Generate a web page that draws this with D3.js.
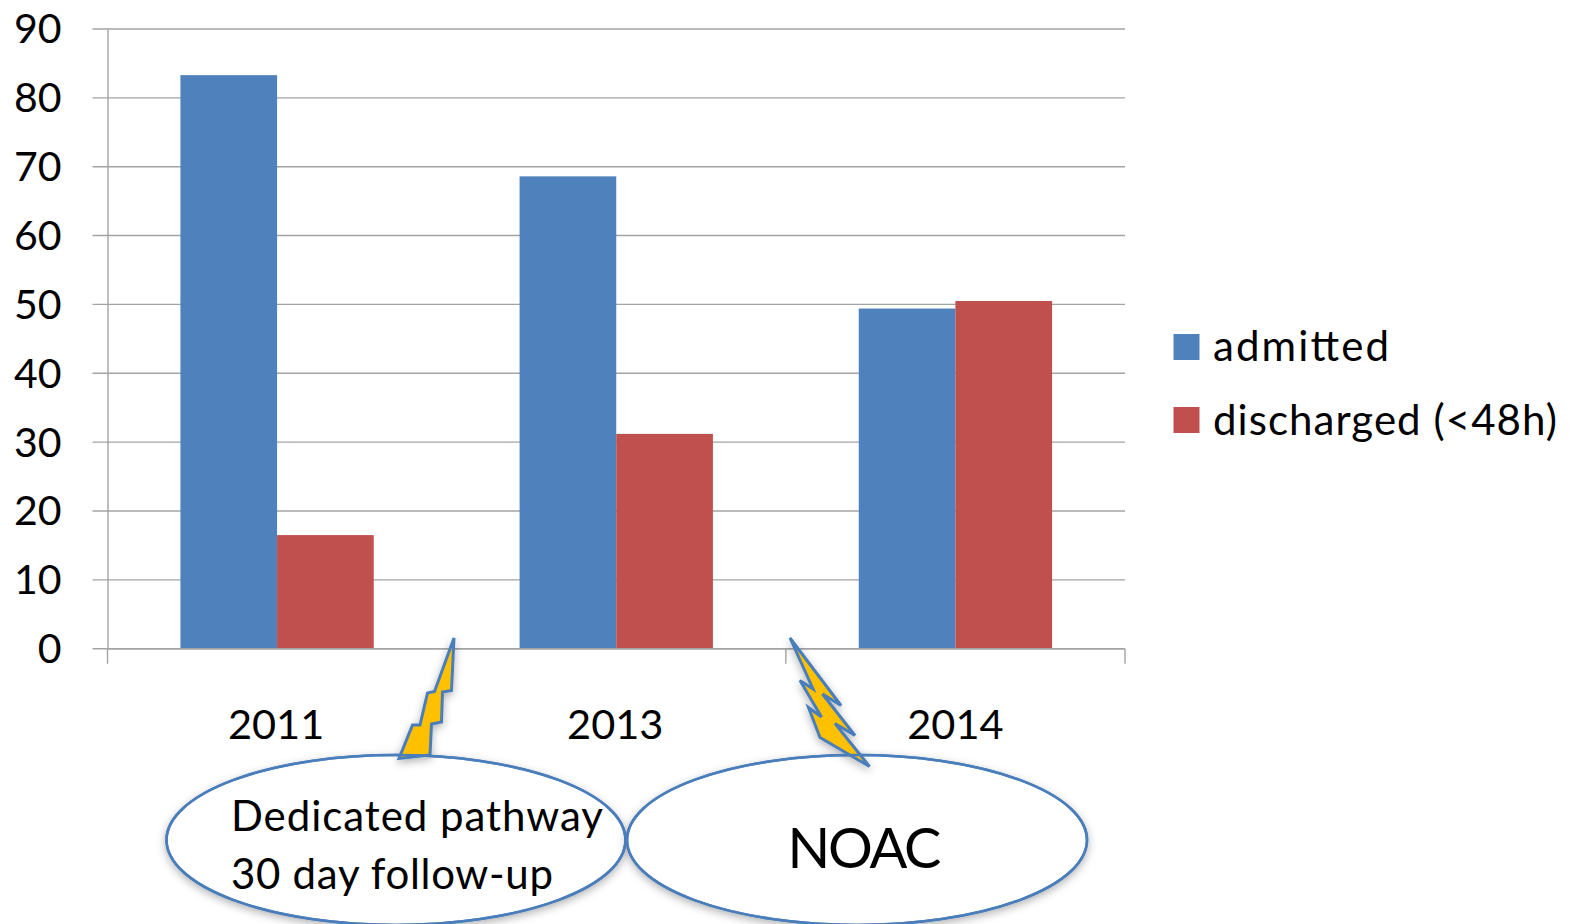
<!DOCTYPE html>
<html>
<head>
<meta charset="utf-8">
<style>
html,body{margin:0;padding:0;background:#fff}
svg{display:block}
text{font-family:Lato,"Open Sans",sans-serif;fill:#000}
</style>
<script src="https://cdn.jsdelivr.net/npm/d3@7"></script>
</head>
<body>
<script>
// Share of patients per year, by disposition
const years = ["2011", "2013", "2014"];
const seriesNames = ["admitted", "discharged (<48h)"];
const seriesWidths = [176, 344];
const admitted = [83.3, 68.6, 49.4];
const discharged = [16.5, 31.2, 50.5];
const yTicks = [0, 10, 20, 30, 40, 50, 60, 70, 80, 90];
const seriesColors = ["#4F81BD", "#C0504D"];

const W = 1579, H = 924;
const plot = {left: 107.5, right: 1125, top: 29, bottom: 648.7};
const gridColor = "#A3A3A3", calloutBlue = "#4A7EBB", boltFill = "#FFC000";

const svg = d3.select("body").append("svg").attr("width", W).attr("height", H);

// Soft shadow under the callout shapes
const defs = svg.append("defs");
const shadow = defs.append("filter").attr("id", "soft").attr("x", "-20%").attr("y", "-20%").attr("width", "140%").attr("height", "140%");
shadow.append("feDropShadow").attr("dx", 0).attr("dy", 3).attr("stdDeviation", 4).attr("flood-color", "#000").attr("flood-opacity", 0.3);

const y = d3.scaleLinear().domain([0, 90]).range([plot.bottom, plot.top]);
const x = d3.scaleBand().domain(years).range([plot.left, plot.right]).paddingInner(0.43).paddingOuter(0.215);
const xInner = d3.scaleBand().domain(d3.range(seriesNames.length)).range([0, x.bandwidth()]);

// Horizontal gridlines, extended left as tick stubs
svg.append("g").selectAll("line").data(yTicks).join("line")
  .attr("x1", plot.left - 15).attr("x2", plot.right)
  .attr("y1", d => y(d)).attr("y2", d => y(d))
  .attr("stroke", gridColor).attr("stroke-width", 1.4);

// Value axis
const gY = svg.append("g").attr("transform", `translate(${plot.left},0)`)
  .call(d3.axisLeft(y).tickValues(yTicks).tickSize(0).tickPadding(46));
gY.select(".domain").attr("stroke", gridColor).attr("stroke-width", 1.4);
gY.selectAll("text").attr("font-size", 41).attr("dy", "0.34em").style("font-family", "Lato").attr("fill", "#000");

// Bars, one group per year
const groups = svg.append("g").selectAll("g").data(years).join("g")
  .attr("transform", d => `translate(${x(d)},0)`);
[admitted, discharged].forEach((vals, s) => {
  groups.append("rect")
    .attr("x", xInner(s))
    .attr("width", xInner.bandwidth())
    .attr("y", (d, i) => y(vals[i]))
    .attr("height", (d, i) => y(0) - y(vals[i]))
    .attr("fill", seriesColors[s]);
});

// Category axis: ticks sit on the boundaries between years
const step = x.step();
const edges = [0, 1, 2, 3].map(i => plot.left + i * step);
const gX = svg.append("g");
gX.append("line").attr("x1", plot.left).attr("x2", plot.right).attr("y1", y(0)).attr("y2", y(0))
  .attr("stroke", gridColor).attr("stroke-width", 1.4);
gX.selectAll("line.edge").data(edges.filter((d, i) => i !== 1)).join("line").attr("class", "edge")
  .attr("x1", d => d).attr("x2", d => d).attr("y1", y(0)).attr("y2", y(0) + 15)
  .attr("stroke", gridColor).attr("stroke-width", 1.4);
gX.selectAll("text").data(years).join("text")
  .attr("x", d => x(d) + x.bandwidth() / 2 - (d === "2014" ? 0 : 1)).attr("y", 739)
  .attr("text-anchor", "middle").attr("font-size", 41.5).text(d => d);

// Legend
const legend = svg.append("g").selectAll("g").data(seriesNames).join("g")
  .attr("transform", (d, i) => `translate(1173.5,${334 + i * 73})`);
legend.append("rect").attr("width", 26).attr("height", 26).attr("fill", (d, i) => seriesColors[i]);
legend.append("text").attr("x", 39.5).attr("y", (d, i) => 26 + i + 0.5).attr("font-size", 42)
  .attr("textLength", (d, i) => seriesWidths[i]).attr("lengthAdjust", "spacing").text(d => d);

// Callout ellipses
const callouts = [
  {cx: 396, cy: 840, rx: 229.5, ry: 85},
  {cx: 857, cy: 840, rx: 230, ry: 85}
];
const gCall = svg.append("g");
gCall.selectAll("ellipse").data(callouts).join("ellipse")
  .attr("cx", d => d.cx).attr("cy", d => d.cy).attr("rx", d => d.rx).attr("ry", d => d.ry)
  .attr("fill", "#fff").attr("stroke", calloutBlue).attr("stroke-width", 2.6)
  .attr("filter", "url(#soft)");

// Lightning bolts pointing at the axis gaps between years
const bolts = [
  [[454,638],[451.5,690.5],[442.5,692],[441.5,722],[431.5,724],[430,755],[399,758.5],[412.5,725],[420,725],[427.5,693],[434.5,691.5]],
  [[790,638],[841,705.5],[822.5,694],[855,735.5],[835,723.5],[869.5,766.5],[820,737.5],[808.5,707.5],[821.5,717],[800,680.5],[813,689]]
];
svg.append("g").selectAll("path").data(bolts).join("path")
  .attr("d", d => d3.line()(d) + "Z")
  .attr("fill", boltFill).attr("stroke", calloutBlue).attr("stroke-width", 3)
  .attr("stroke-linejoin", "miter").attr("filter", "url(#soft)");

// Ellipse outlines stay visible across the bolt tips
svg.append("g").selectAll("ellipse").data(callouts).join("ellipse")
  .attr("cx", d => d.cx).attr("cy", d => d.cy).attr("rx", d => d.rx).attr("ry", d => d.ry)
  .attr("fill", "none").attr("stroke", calloutBlue).attr("stroke-width", 2.6);

// Callout text
const labels = [
  {t: "Dedicated pathway", x: 231, y: 831, s: 42, w: 372},
  {t: "30 day follow-up", x: 231, y: 889, s: 42, w: 322},
  {t: "NOAC", x: 787.5, y: 867.5, s: 56, w: 154}
];
svg.append("g").selectAll("text").data(labels).join("text")
  .attr("x", d => d.x).attr("y", d => d.y).attr("font-size", d => d.s)
  .attr("textLength", d => d.w).attr("lengthAdjust", "spacing").text(d => d.t);
</script>
</body>
</html>
